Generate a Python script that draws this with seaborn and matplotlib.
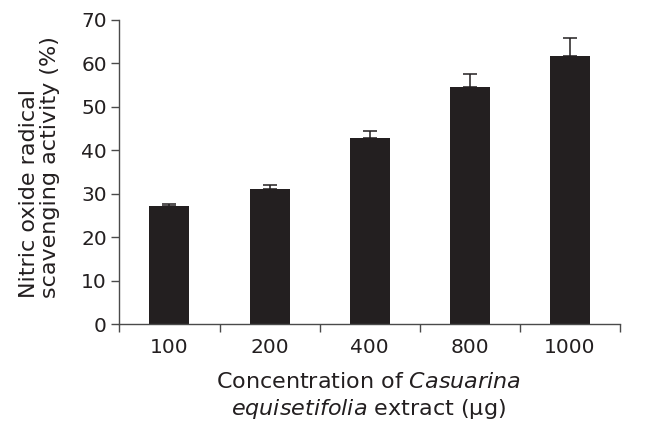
import matplotlib
matplotlib.use("Agg")
import matplotlib.pyplot as plt
import seaborn as sns
import pandas as pd
import numpy as np

categories = ["100", "200", "400", "800", "1000"]
activity = [27.2, 31.1, 42.8, 54.5, 61.8]
sd_upper = [0.4, 1.0, 1.7, 3.1, 4.1]
y_ticks = [0, 10, 20, 30, 40, 50, 60, 70]

sns.set_theme(style="white")
plt.rcParams["font.family"] = ["DejaVu Sans"]
plt.rcParams["mathtext.fontset"] = "dejavusans"

TXT = "#231f20"
SP = "#4a4a4a"

df = pd.DataFrame({"conc": categories, "act": activity})

fig = plt.figure(figsize=(6.67, 4.23), dpi=100)
ax = fig.add_axes([0.179, 0.234, 0.7505, 0.719])

sns.barplot(data=df, x="conc", y="act", order=categories, color="#231f20",
            width=0.4, errorbar=None, saturation=1, ax=ax, linewidth=0)

xpos = np.arange(len(categories))
ax.errorbar(xpos, activity, yerr=[np.zeros(len(sd_upper)), sd_upper],
            fmt="none", ecolor=TXT, elinewidth=1.1, capsize=5, capthick=1.1)

ax.set_ylim(0, 70)
ax.set_xlim(-0.5, len(categories) - 0.5)
ax.set_yticks(y_ticks)
ax.set_yticklabels([str(t) for t in y_ticks], fontsize=14.5, color=TXT)
ax.set_xticks(xpos)
ax.set_xticklabels(categories, fontsize=14.5, color=TXT)
ax.set_xticks(np.arange(len(categories) + 1) - 0.5, minor=True)
ax.tick_params(axis="x", which="major", length=0, pad=10, bottom=True)
ax.tick_params(axis="x", which="minor", length=6, width=1, color=SP,
               direction="out", bottom=True)
ax.tick_params(axis="y", which="major", length=6, width=1, color=SP,
               direction="out", pad=3, left=True)

for s in ["top", "right"]:
    ax.spines[s].set_visible(False)
for s in ["left", "bottom"]:
    ax.spines[s].set_color(SP)
    ax.spines[s].set_linewidth(1.0)

ax.set_ylabel("Nitric oxide radical\nscavenging activity (%)", fontsize=16,
              color=TXT, linespacing=1.1, ha="left", va="bottom",
              multialignment="left")
ax.yaxis.set_label_coords(-0.118, 0.085)
ax.set_xlabel("Concentration of $\\mathit{Casuarina}$\n$\\mathit{equisetifolia}$ extract (µg)",
              fontsize=16, color=TXT, linespacing=1.25, va="top")
ax.xaxis.set_label_coords(0.497, -0.158)

fig.savefig("out.png", dpi=100)
